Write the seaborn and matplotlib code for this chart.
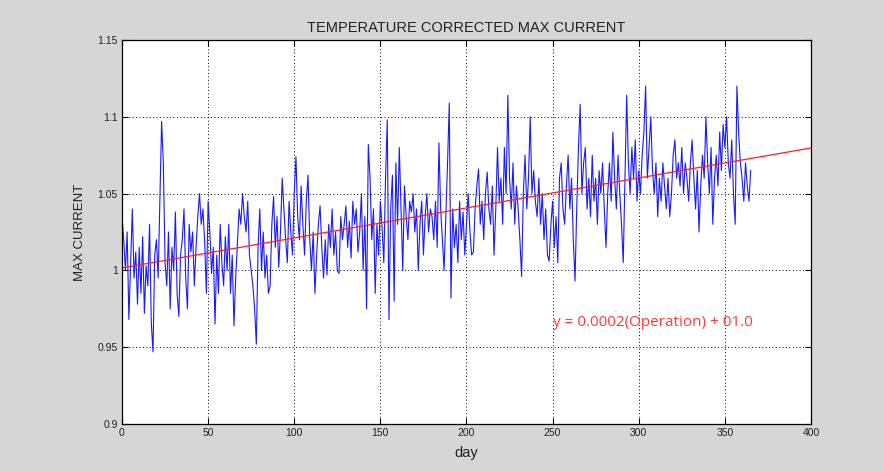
import numpy as np
import pandas as pd
import matplotlib
matplotlib.use("Agg")
import matplotlib.pyplot as plt
import seaborn as sns

# valores (um por dia, 0..365)
corrente = [
    1.035, 1.020, 1.000, 1.025, 0.968, 1.005, 1.040, 0.995, 1.012, 0.978,
    1.015, 0.985, 1.022, 0.972, 1.003, 0.990, 1.030, 0.966, 0.947, 1.010,
    1.020, 0.995, 1.045, 1.097, 1.070, 1.005, 0.990, 1.025, 0.975, 1.015,
    1.000, 1.038, 0.985, 0.970, 1.010, 1.020, 1.040, 0.995, 0.975, 1.030,
    1.012, 1.025, 0.990, 1.015, 1.035, 1.050, 1.030, 1.040, 1.018, 0.985,
    1.045, 1.025, 0.998, 1.015, 0.965, 1.010, 0.985, 1.030, 1.005, 0.990,
    1.022, 1.000, 1.030, 0.985, 1.010, 0.964, 0.995, 1.018, 1.040, 1.030,
    1.050, 1.035, 1.025, 1.045, 1.010, 1.000, 0.990, 0.975, 0.952, 1.015,
    1.040, 1.000, 1.025, 0.995, 1.010, 0.985, 0.990, 1.030, 1.048, 1.015,
    1.035, 1.002, 1.025, 1.060, 1.040, 1.020, 1.005, 1.045, 1.025, 1.010,
    1.050, 1.074, 1.035, 1.020, 1.055, 1.030, 1.010, 1.045, 1.062, 1.020,
    1.000, 1.025, 0.985, 1.010, 1.030, 1.042, 1.015, 0.995, 1.020, 0.997,
    1.030, 1.015, 1.040, 1.010, 1.025, 1.000, 0.998, 1.035, 1.020, 1.030,
    1.042, 1.015, 1.032, 1.008, 1.045, 1.030, 1.040, 1.012, 1.025, 1.050,
    1.000, 1.035, 0.975, 1.082, 1.060, 1.020, 1.040, 0.985, 1.030, 1.010,
    1.045, 1.028, 1.005, 1.060, 1.098, 0.968, 1.040, 1.062, 0.980, 1.070,
    1.030, 1.080, 1.040, 1.000, 1.055, 1.035, 1.020, 1.045, 1.038, 1.050,
    1.025, 1.040, 1.000, 1.030, 1.045, 1.010, 1.035, 1.050, 1.025, 1.040,
    1.035, 1.020, 1.045, 1.015, 1.083, 1.040, 1.020, 1.000, 1.035, 1.070,
    1.109, 0.982, 1.040, 1.015, 1.030, 1.005, 1.045, 1.020, 1.038, 1.010,
    1.030, 1.050, 1.025, 1.010, 1.012, 1.040, 1.055, 1.066, 1.030, 1.045,
    1.020, 1.050, 1.064, 1.040, 1.030, 1.055, 1.010, 1.040, 1.080, 1.045,
    1.060, 1.030, 1.080, 1.050, 1.114, 1.060, 1.040, 1.070, 1.030, 1.055,
    1.040, 1.020, 0.996, 1.050, 1.075, 1.040, 1.060, 1.100, 1.050, 1.065,
    1.045, 1.035, 1.060, 1.030, 1.050, 1.020, 1.040, 1.010, 1.006, 1.030,
    1.045, 1.015, 1.035, 1.005, 1.060, 1.070, 1.040, 1.030, 1.055, 1.075,
    1.040, 1.060, 1.020, 0.993, 1.040, 1.080, 1.108, 1.050, 1.070, 1.080,
    1.040, 1.060, 1.035, 1.075, 1.045, 1.060, 1.030, 1.065, 1.050, 1.070,
    1.040, 1.015, 1.050, 1.070, 1.045, 1.090, 1.060, 1.040, 1.075, 1.050,
    1.030, 1.005, 1.060, 1.114, 1.070, 1.050, 1.080, 1.060, 1.085, 1.045,
    1.065, 1.050, 1.075, 1.090, 1.120, 1.060, 1.080, 1.100, 1.065, 1.050,
    1.070, 1.035, 1.060, 1.045, 1.070, 1.055, 1.040, 1.060, 1.035, 1.050,
    1.075, 1.085, 1.060, 1.070, 1.055, 1.080, 1.050, 1.070, 1.060, 1.045,
    1.070, 1.085, 1.060, 1.040, 1.065, 1.025, 1.055, 1.075, 1.060, 1.100,
    1.070, 1.050, 1.080, 1.030, 1.060, 1.075, 1.055, 1.090, 1.065, 1.095,
    1.080, 1.100, 1.070, 1.060, 1.085, 1.050, 1.030, 1.120, 1.090, 1.070,
    1.060, 1.045, 1.070, 1.055, 1.045, 1.065,
]
dias = list(range(len(corrente)))

# reta de tendência (extremos)
tendencia_x = [0, 400]
tendencia_y = [1.0016, 1.0797]

x_ticks = [0, 50, 100, 150, 200, 250, 300, 350, 400]
y_ticks = [0.9, 0.95, 1.0, 1.05, 1.1, 1.15]
y_labels = ["0.9", "0.95", "1", "1.05", "1.1", "1.15"]

df = pd.DataFrame({"dia": dias, "corrente": corrente})

plt.rcParams["font.family"] = ["Liberation Sans", "DejaVu Sans"]

fig = plt.figure(figsize=(8.84, 4.72), dpi=100, facecolor="#d6d6d6")
ax = fig.add_axes([0.138, 0.1017, 0.7794, 0.8136])
ax.set_facecolor("white")

# série diária em azul e reta ajustada em vermelho
sns.lineplot(data=df, x="dia", y="corrente", ax=ax, color="#1a1aff", linewidth=0.8)
ax.plot(tendencia_x, tendencia_y, color="#ff2020", linewidth=0.9)

ax.text(250, 0.9658, "y = 0.0002(Operation) + 01.0", color="#ff3b3b",
        fontsize=11, family=["Open Sans", "DejaVu Sans"], va="center", ha="left")

ax.set_xlim(0, 400)
ax.set_ylim(0.9, 1.15)
ax.set_xticks(x_ticks)
ax.set_xticklabels([str(t) for t in x_ticks])
ax.set_yticks(y_ticks)
ax.set_yticklabels(y_labels)
ax.tick_params(direction="in", top=True, right=True, labelsize=7.5, length=4,
               width=0.8, pad=3, labelcolor="#222222")
ax.grid(True, color="black", linestyle=(0, (1, 2.5)), linewidth=0.7)
for s in ax.spines.values():
    s.set_linewidth(0.9)

ax.set_title("TEMPERATURE CORRECTED MAX CURRENT", fontsize=10.5, pad=6, color="#222222")
ax.set_xlabel("day", fontsize=10.5, labelpad=6, color="#222222")
ax.set_ylabel("MAX CURRENT", fontsize=9.5, labelpad=8, color="#222222")

fig.savefig("out.png", dpi=100, facecolor=fig.get_facecolor())
